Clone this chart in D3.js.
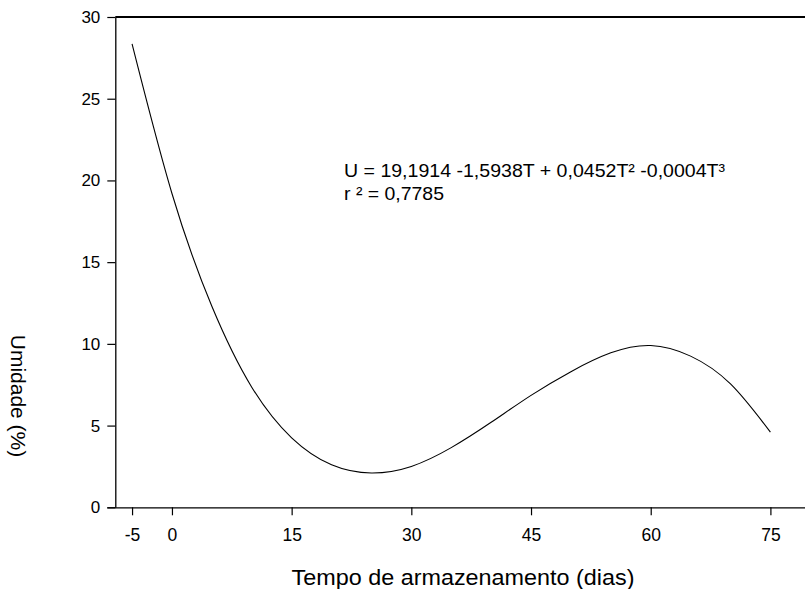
<!DOCTYPE html>
<html>
<head>
<meta charset="utf-8">
<script src="https://cdn.jsdelivr.net/npm/d3@7"></script>
<style>
  html, body { margin: 0; padding: 0; background: #fff; }
  svg { display: block; }
  text { font-family: "Liberation Sans", Arial, sans-serif; fill: #000; }
</style>
</head>
<body>
<svg id="chart" width="805" height="589"></svg>
<script>
// ---- data ----
const days = [-5, 0, 5, 10, 15, 20, 25, 30, 35, 40, 45, 50, 55, 60, 65, 70, 75];
const humidity = [28.35, 19.2, 12.3, 7.35, 4.25, 2.6, 2.1, 2.5, 3.65, 5.2, 6.85, 8.3, 9.45, 9.9, 9.25, 7.55, 4.6];
const xTicks = [-5, 0, 15, 30, 45, 60, 75];
const yTicks = [0, 5, 10, 15, 20, 25, 30];
const equationText = "U = 19,1914 -1,5938T + 0,0452T² -0,0004T³";
const r2Text = "r ² = 0,7785";
const xTitle = "Tempo de armazenamento (dias)";
const yTitle = "Umidade (%)";

const svg = d3.select("#chart");

const x = d3.scaleLinear().domain([-7.1, 80]).range([115.3, 810.3]);
const y = d3.scaleLinear().domain([0, 30]).range([507.3, 17]);
const fmt = d => String(d);

// top frame line
svg.append("line")
  .attr("x1", x(-7.1)).attr("x2", 805)
  .attr("y1", y(30)).attr("y2", y(30))
  .attr("stroke", "#000").attr("stroke-width", 1.8);

// bottom axis
const gx = svg.append("g")
  .attr("transform", `translate(0,${y(0)})`)
  .call(d3.axisBottom(x).tickValues(xTicks).tickSize(8).tickSizeOuter(0).tickPadding(13).tickFormat(fmt));
gx.select(".domain").attr("stroke", "#000").attr("stroke-width", 1.2)
  .attr("d", `M${x(-7.1) - 8},0.5H805`);
gx.selectAll(".tick line").attr("stroke", "#000").attr("stroke-width", 1.2);
gx.selectAll(".tick text").attr("font-size", 17.5).attr("fill", "#000")
  .style("font-family", "'Liberation Sans', Arial, sans-serif");

// left axis
const gy = svg.append("g")
  .attr("transform", `translate(${x(-7.1)},0)`)
  .call(d3.axisLeft(y).tickValues(yTicks).tickSize(8).tickSizeOuter(0).tickPadding(7).tickFormat(fmt));
gy.select(".domain").attr("stroke", "#000").attr("stroke-width", 1.3);
gy.selectAll(".tick line").attr("stroke", "#000").attr("stroke-width", 1.2);
gy.selectAll(".tick text").attr("font-size", 17).attr("fill", "#000")
  .style("font-family", "'Liberation Sans', Arial, sans-serif");

// curve
const line = d3.line()
  .x((d, i) => x(days[i]))
  .y(d => y(d))
  .curve(d3.curveNatural);
svg.append("path")
  .datum(humidity)
  .attr("d", line)
  .attr("fill", "none")
  .attr("stroke", "#000")
  .attr("stroke-width", 1.1);

// equation
svg.append("text")
  .attr("x", 344).attr("y", 177)
  .attr("font-size", 18.5)
  .attr("textLength", 381).attr("lengthAdjust", "spacingAndGlyphs")
  .text(equationText);
svg.append("text")
  .attr("x", 344).attr("y", 200)
  .attr("font-size", 18.5)
  .attr("textLength", 100).attr("lengthAdjust", "spacingAndGlyphs")
  .text(r2Text);

// axis titles
svg.append("text")
  .attr("x", 463).attr("y", 585)
  .attr("text-anchor", "middle")
  .attr("font-size", 21.5)
  .attr("textLength", 343).attr("lengthAdjust", "spacingAndGlyphs")
  .text(xTitle);
svg.append("text")
  .attr("transform", "translate(11,396) rotate(90)")
  .attr("text-anchor", "middle")
  .attr("font-size", 21)
  .text(yTitle);
</script>
</body>
</html>
